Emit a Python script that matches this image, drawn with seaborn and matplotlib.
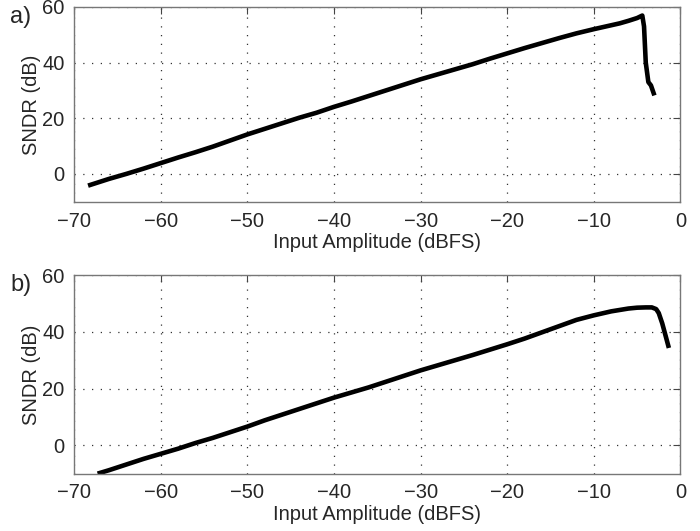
import matplotlib
matplotlib.use("Agg")
import matplotlib.pyplot as plt
import seaborn as sns
import pandas as pd

# ── Data ─────────────────────────────────────────────────────
amp_a = [-68.4, -66, -64, -62, -60, -58, -56, -54, -52, -50, -48, -46, -44,
         -42, -40, -38, -36, -34, -32, -30, -28, -26, -24, -22, -20, -18,
         -16, -14, -12, -10, -8, -7, -6, -5, -4.4, -4.2, -4.0, -3.7, -3.4, -3.0]
sndr_a = [-4.2, -1.8, 0.0, 1.9, 3.9, 5.9, 7.8, 9.8, 12.0, 14.2, 16.2, 18.2, 20.2,
          22.0, 24.1, 26.0, 28.0, 30.0, 32.0, 34.0, 35.8, 37.6, 39.4, 41.4, 43.3, 45.2,
          47.0, 48.8, 50.5, 52.0, 53.4, 54.1, 55.0, 56.0, 56.9, 53.0, 40.0, 33.0, 31.8, 28.2]

amp_b = [-67.3, -66, -64, -62, -60, -58, -56, -54, -52, -50, -48, -46, -44,
         -42, -40, -38, -36, -34, -32, -30, -28, -26, -24, -22, -20, -18,
         -16, -14, -12, -10, -8, -6, -5, -4, -3.3, -2.8, -2.5, -2.1, -1.7, -1.33]
sndr_b = [-10.0, -8.8, -6.8, -4.8, -3.0, -1.2, 0.8, 2.6, 4.6, 6.6, 8.8, 10.8, 12.8,
          14.8, 16.8, 18.6, 20.4, 22.4, 24.4, 26.4, 28.2, 30.0, 31.8, 33.7, 35.6, 37.6,
          39.8, 42.0, 44.2, 45.8, 47.2, 48.2, 48.5, 48.6, 48.6, 48.0, 46.6, 43.0, 38.5, 34.3]

panels = ["a)", "b)"]
x_ticks = [-70, -60, -50, -40, -30, -20, -10, 0]
y_ticks = [0, 20, 40, 60]

sns.set_style("white")
plt.rcParams["font.family"] = ["Liberation Sans", "DejaVu Sans"]
plt.rcParams["axes.unicode_minus"] = True

fig = plt.figure(figsize=(7, 5.31), dpi=100)
ax_a = fig.add_axes([0.106, 0.620, 0.866, 0.367])
ax_b = fig.add_axes([0.106, 0.108, 0.866, 0.374])

series = [(amp_a, sndr_a), (amp_b, sndr_b)]
for ax, (xs, ys), tag in zip([ax_a, ax_b], series, panels):
    df = pd.DataFrame({"amp": xs, "sndr": ys})
    sns.lineplot(data=df, x="amp", y="sndr", ax=ax, color="black",
                 linewidth=3.3, sort=False, solid_capstyle="butt")
    ax.set_xlim(-70, 0)
    ax.set_ylim(-10, 60)
    ax.set_xticks(x_ticks)
    ax.set_yticks(y_ticks)
    ax.grid(True, linestyle=(0, (1, 6)), color="#333333", linewidth=0.9)
    ax.tick_params(direction="in", length=5, labelsize=14.5, color="#444444",
                   top=True, right=True, pad=7)
    for sp in ax.spines.values():
        sp.set_color("#777777")
        sp.set_linewidth(1.0)
    ax.set_xlabel("Input Amplitude (dBFS)", fontsize=14.5, labelpad=2)
    ax.set_ylabel("SNDR (dB)", fontsize=14.5, labelpad=1)
    ax.text(-0.106, 1.005, tag, transform=ax.transAxes, fontsize=17,
            ha="left", va="top")

fig.savefig("out.png", dpi=100)
